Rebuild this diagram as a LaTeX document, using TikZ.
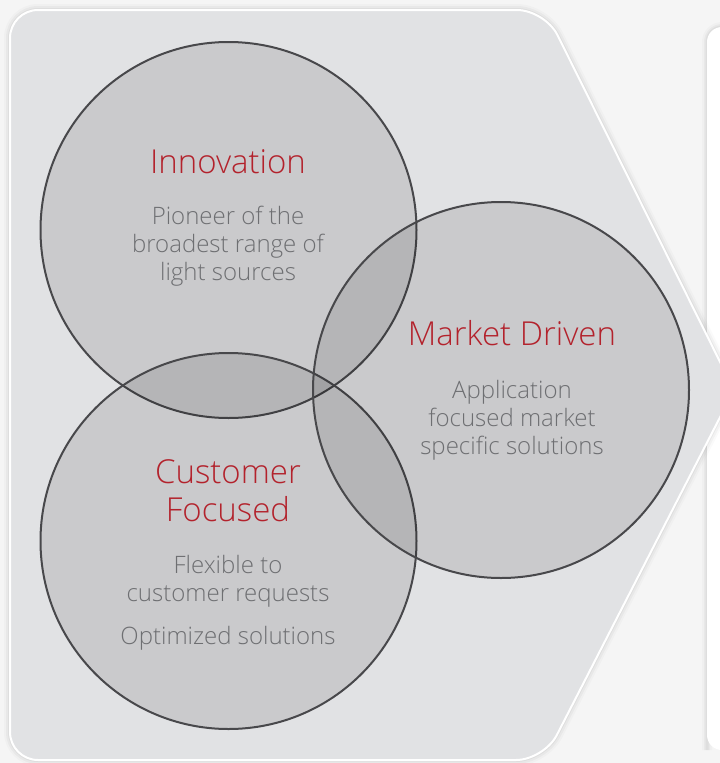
\documentclass[tikz,border=0pt]{standalone}
\usepackage{fontspec}
\setmainfont{Open Sans Light}
\usepackage{tikz}

\definecolor{pagebg}{HTML}{F5F5F5}
\definecolor{panelbg}{HTML}{E1E2E4}
\definecolor{ringline}{HTML}{48484B}
\definecolor{headred}{HTML}{B3222C}
\definecolor{bodygray}{HTML}{6E6F72}

\begin{document}
\begin{tikzpicture}[x=1pt, y=-1pt,
  venn/.style={circle, minimum size=376pt, inner sep=0pt, outer sep=0pt,
    fill=black, fill opacity=0.1, draw=ringline, draw opacity=1, line width=2pt},
  head/.style={anchor=base, inner sep=0pt, align=center, text=headred,
    font=\fontsize{33}{38}\selectfont},
  blurb/.style={anchor=base, inner sep=0pt, align=center, text=bodygray,
    font=\fontsize{24}{28}\selectfont}]
\useasboundingbox (0,0) rectangle (720,763);
\fill[pagebg] (0,0) rectangle (720,763);

% right panel
\foreach \w/\o in {10/0.02, 6/0.03, 3/0.04}
  \draw[black, opacity=\o, line width=\w pt, rounded corners=15pt] (707,750) -- (707,27) -- (760,27);
\fill[white, rounded corners=15pt] (707,750) rectangle (760,27);

% left panel with the arrow tip
\foreach \w/\o in {12/0.02, 8/0.03, 4/0.04}
  \draw[black, opacity=\o, line width=\w pt, rounded corners=28pt]
    (10,10) -- (545,10) -- (734,390) -- (544,760) -- (10,760) -- cycle;
\draw[fill=panelbg, draw=white, line width=2pt, rounded corners=28pt]
  (10,10) -- (545,10) -- (734,390) -- (544,760) -- (10,760) -- cycle;

% circles
\node[venn] (innocircle) at (228.5,230) {};
\node[venn] (custcircle) at (228.5,541) {};
\node[venn] (marketcircle) at (501,390) {};

% texts (base = last line)
\node[head] (innohead) at (228,173) {Innovation};
\node[blurb] (innotext) at (228,280) {Pioneer of the\\broadest range of\\light sources};

\node[head] (markethead) at (512,345) {Market Driven};
\node[blurb] (markettext) at (512,454) {Application\\focused market\\specific solutions};

\node[head] (custhead) at (228,521) {Customer\\Focused};
\node[blurb] (custtext) at (228,644) {Flexible to\\customer requests\\[15pt]Optimized solutions};
\end{tikzpicture}
\end{document}
